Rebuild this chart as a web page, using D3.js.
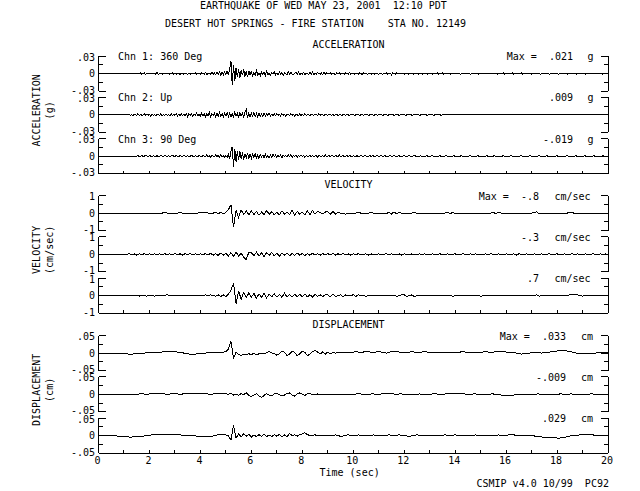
<!DOCTYPE html>
<html><head><meta charset="utf-8">
<script src="https://cdn.jsdelivr.net/npm/d3@7"></script>
<style>
body{margin:0;background:#fff}
svg text{font-family:"DejaVu Sans Mono",monospace;font-size:10px;fill:#000;white-space:pre}
</style></head><body>
<svg id="c" width="640" height="491" xmlns="http://www.w3.org/2000/svg"></svg>
<script>
// ---------- data ----------
const titleLine1 = "EARTHQUAKE OF WED MAY 23, 2001  12:10 PDT";
const titleLine2 = "DESERT HOT SPRINGS - FIRE STATION    STA NO. 12149";
const footer = "CSMIP v4.0 10/99  PC92";
const xTitle = "Time (sec)";
const timeDomain = [0, 20];
const xTicks = [0,1,2,3,4,5,6,7,8,9,10,11,12,13,14,15,16,17,18,19,20];
const xTickLabels = [0,2,4,6,8,10,12,14,16,18,20];

const groupTitles = ["ACCELERATION", "VELOCITY", "DISPLACEMENT"];
const groupUnits = ["(g)", "(cm/sec)", "(cm)"];
const channelNames = ["Chn 1: 360 Deg", "Chn 2: Up", "Chn 3: 90 Deg"];

const accLimit = 0.03, velLimit = 1, dispLimit = 0.05;
const accTickLabels = [".03", "0", "-.03"];
const velTickLabels = ["1", "0", "-1"];
const dispTickLabels = [".05", "0", "-.05"];
const accMaxLabels = [".021", ".009", "-.019"];
const velMaxLabels = ["-.8", "-.3", ".7"];
const dispMaxLabels = [".033", "-.009", ".029"];
const accMaxUnit = "g", velMaxUnit = "cm/sec", dispMaxUnit = "cm";

// sample interval (s) and value unit of the stored integers
const accDt = 0.05, accUnit = 0.001;   // milli-g
const velDt = 0.1, velUnit = 0.01;     // 0.01 cm/s
const dispDt = 0.1, dispUnit = 0.001;  // 0.001 cm

const acc1 = [
0,0,0,0,0,0,0,0,0,0,0,0,0,0,0,0,0,0,0,0,
0,0,0,0,0,0,0,0,0,0,1,-1,0,1,-1,0,1,-2,1,0,
0,1,-1,1,0,-1,2,-1,0,1,-1,0,1,-1,1,0,-1,0,1,-1,
1,-1,0,1,-2,1,0,-1,1,0,-1,1,-1,0,1,-1,2,-1,0,1,
-1,1,0,-1,2,-2,1,0,-1,2,-1,1,-2,2,-1,3,-3,2,-2,3,
-2,4,-3,9,21,-19,15,-13,10,-6,8,-7,6,-3,7,-5,4,-6,5,-2,
3,-4,2,-3,5,-2,1,-4,3,-1,2,-3,4,-2,1,-3,2,-1,3,-2,
1,-2,3,-1,2,-3,1,0,-2,3,-1,2,-1,-2,1,2,-1,3,-2,1,
-1,2,-2,1,0,-1,2,-1,3,-2,1,-1,2,0,-1,1,-2,2,-1,1,
0,-1,2,-1,1,0,-2,1,-1,2,-1,0,1,-1,1,0,-1,2,-1,0,
1,-1,0,1,-1,1,0,-2,1,0,1,-1,0,1,-1,0,1,-1,1,0,
-1,1,0,-1,1,0,1,-1,0,1,-2,1,0,-1,1,0,-1,1,0,1,
-1,0,1,-1,0,0,1,-1,0,1,0,-1,0,1,-1,0,0,1,-1,0,
0,1,-1,0,0,0,1,-1,0,0,1,-1,0,0,0,1,-1,0,0,0,
0,0,0,1,-1,0,0,0,0,0,1,0,-1,0,0,0,0,1,-1,0,
0,0,0,0,1,-1,0,0,0,0,0,1,0,-1,0,0,0,0,1,-1,
0,0,0,0,0,1,-1,0,0,0,0,0,1,-1,0,0,0,0,0,1,
-1,0,0,0,0,0,1,-1,0,0,0,0,0,1,-1,0,0,0,0,0,
1,-1,0,0,0,0,0,1,-1,0,0,0,0,0,1,-1,0,0,0,0,
0,1,-1,0,0,0,0,0,1,-1,0,0,0,0,0,1,-1,0,0,0,
0];
const acc2 = [
0,0,0,0,0,0,0,0,0,0,0,0,0,0,0,0,0,0,0,0,
0,0,0,0,1,-1,1,-2,1,0,-1,2,-1,1,-1,0,2,-1,1,-1,
1,-2,2,-1,1,-2,1,0,-1,2,-2,1,-1,2,-1,1,-2,2,-1,1,
-1,2,-2,1,-2,2,-1,1,-1,2,-3,2,-1,2,-2,1,-1,3,-2,1,
-2,3,-1,2,-3,2,-2,4,-3,2,-1,3,-4,3,-2,4,-3,2,-4,3,
-2,4,-3,3,-4,2,-3,5,-2,3,-5,4,-2,3,-4,5,9,-6,3,-4,
3,-2,4,-3,2,-4,3,-2,1,-3,3,-2,2,-1,3,-2,1,-2,2,-1,
2,-1,1,-2,2,-1,1,-2,1,0,-1,2,-1,1,-2,1,0,-1,2,-1,
1,-1,2,-1,0,1,-2,1,0,-1,1,0,-1,2,-1,1,0,-1,1,0,
-1,1,0,-1,1,-1,0,1,-1,0,1,-2,1,0,-1,1,0,-1,1,0,
1,-1,0,0,1,-1,0,1,-1,0,0,1,-1,0,1,0,-1,0,1,-1,
0,0,1,-1,0,0,1,-1,0,0,0,1,-1,0,0,1,-1,0,0,0,
1,-1,0,0,0,1,-1,0,0,0,0,1,-1,0,0,0,0,1,-1,0,
0,0,1,-1,0,0,0,0,1,-1,0,0,0,0,0,0,0,0,0,0,
0,0,0,0,0,0,0,0,0,0,0,0,0,0,0,0,0,0,0,0,
0,0,0,0,0,0,0,0,0,0,0,0,0,0,0,0,0,0,0,0,
0,0,0,0,0,0,0,0,0,0,0,0,0,0,0,0,0,0,0,0,
0,0,0,0,0,0,0,0,0,0,0,0,0,0,0,0,0,0,0,0,
0,0,0,0,0,0,0,0,0,0,0,0,0,0,0,0,0,0,0,0,
0,0,0,0,0,0,0,0,0,0,0,0,0,0,0,0,0,0,0,0,
0];
const acc3 = [
0,0,0,0,0,0,0,0,0,0,0,0,0,0,0,0,0,0,0,0,
0,0,0,0,0,0,0,0,0,0,0,1,-1,0,1,-1,0,1,0,-1,
1,0,-1,1,0,-1,1,-1,0,1,0,-1,1,0,-1,1,-1,0,1,0,
-1,1,0,-1,1,0,-1,1,0,-1,1,-1,0,1,0,-1,1,0,-1,1,
0,-1,1,0,-1,2,-1,1,-2,1,0,-1,2,-1,1,-2,2,-1,1,-2,
1,-2,3,-5,8,16,-19,12,-10,9,-7,8,-5,6,-6,4,-3,5,-4,3,
-4,3,-2,4,-3,2,-4,3,-1,2,-3,3,-2,1,-3,2,-2,3,-1,2,
-2,1,-1,2,-3,2,-1,1,-2,2,-1,3,-2,1,-1,2,-2,1,-1,2,
-1,1,-2,1,0,-1,2,-1,1,-1,0,1,-2,1,0,-1,1,-1,2,-1,
0,1,-1,1,0,-1,1,0,-1,2,-1,0,1,-1,0,1,-1,1,0,-1,
1,0,-1,1,-1,0,1,0,-1,1,0,-1,0,1,-1,1,0,-1,0,1,
-1,0,1,-1,0,1,-1,0,0,1,-1,0,1,0,-1,0,1,-1,0,0,
1,-1,0,0,1,-1,0,0,1,0,-1,0,0,1,-1,0,0,0,1,-1,
0,0,1,-1,0,0,0,0,1,-1,0,0,0,1,-1,0,0,0,0,1,
-1,0,0,0,0,1,-1,0,0,0,0,0,1,-1,0,0,0,0,1,-1,
0,0,0,0,0,1,-1,0,0,0,0,1,-1,0,0,0,0,0,1,-1,
0,0,0,0,1,-1,0,0,0,0,0,0,1,-1,0,0,0,0,0,1,
-1,0,0,0,0,0,1,-1,0,0,0,0,1,-1,0,0,0,0,0,0,
1,-1,0,0,0,0,0,0,1,-1,0,0,0,0,0,1,-1,0,0,0,
0,0,1,-1,0,0,0,0,0,1,-1,0,0,0,0,0,1,-1,0,0,
0];

const vel1 = [
0,0,0,0,0,0,0,0,0,0,
0,0,0,0,0,0,0,0,0,0,
0,0,0,0,0,0,5,0,0,0,
0,0,5,0,0,0,0,0,0,0,
5,6,4,0,0,0,4,-5,5,-4,
4,20,47,-80,15,-25,18,-8,12,-10,
12,-8,9,-12,6,-9,14,-6,8,-10,
5,-9,12,-5,6,-8,16,-14,10,-6,
5,-9,14,-10,15,-6,8,4,-5,6,
8,-8,10,-5,4,0,-4,-6,0,-4,
-5,0,4,0,0,0,0,4,0,0,
0,0,0,-4,6,-5,7,-4,5,0,
0,0,0,0,5,-4,0,0,0,0,
0,0,0,0,0,0,0,6,-5,4,
-3,0,0,0,0,0,0,0,0,0,
0,0,0,0,0,5,-4,5,0,0,
0,0,0,0,0,0,0,0,0,0,
0,5,7,-3,0,0,0,0,0,0,
0,0,0,0,0,5,4,-4,-5,0,
0,0,0,0,0,0,0,0,0,0,
0];
const vel2 = [
0,0,0,0,0,0,0,0,0,0,
0,0,4,-3,3,-4,3,-3,4,-3,
3,-4,4,-3,3,-4,4,-3,3,-3,
4,-3,3,-4,4,-3,5,-4,3,-4,
4,-3,5,-4,6,-5,4,-6,8,-5,
6,-9,10,-12,14,-10,8,-16,-30,12,
10,-8,12,-10,8,-12,10,-6,11,-9,
8,-10,6,-5,9,-8,5,-6,8,-4,
5,-6,4,-5,6,-4,3,-5,4,-3,
4,-3,5,-4,3,-3,4,-3,3,-4,
3,-3,4,-3,0,3,-4,3,-3,0,
3,-3,0,4,-3,3,0,-3,3,-4,
3,0,-3,3,-3,0,3,-4,3,0,
-3,3,0,-3,4,-3,0,3,-3,0,
3,-3,0,3,0,-3,3,-4,3,0,
-3,0,3,-3,4,0,-3,3,0,-3,
3,0,-3,3,-4,3,0,-3,3,0,
-3,3,0,-3,3,-3,0,4,-3,0,
3,-3,0,3,-3,0,3,-4,3,0,
-3,3,0,-3,3,0,-3,3,-4,3,
0];
const vel3 = [
0,0,0,0,0,0,0,0,0,0,
0,0,0,0,0,3,-3,3,0,-3,
3,0,-3,3,0,0,0,6,0,0,
0,0,0,0,0,0,0,0,0,0,
0,0,4,-3,5,0,-4,5,-5,4,
-6,8,30,70,-47,28,-22,18,-12,15,
-10,13,-15,10,-8,12,-13,8,-6,10,
-8,7,-10,13,-8,6,-9,7,-5,8,
-6,9,-7,5,-8,6,-4,5,-5,4,
5,-7,8,-5,0,4,-5,4,0,0,
5,-5,4,0,0,-4,0,0,0,0,
0,0,0,0,0,0,4,-4,0,4,
5,-4,0,4,-5,0,0,0,0,0,
0,0,0,0,0,0,0,0,4,-4,
0,0,0,0,0,0,0,0,0,4,
-4,0,0,0,0,0,0,0,0,0,
0,0,0,0,0,0,0,0,0,0,
0,0,4,-4,0,0,0,0,0,0,
0,0,0,0,0,5,8,8,5,0,
-3,0,0,0,0,0,0,0,0,0,
0];

const disp1 = [
0,0,0,0,0,-1,-1,-2,-2,-2,
-2,-2,-3,-3,-2,-2,-1,0,0,1,
2,2,3,3,2,3,4,4,5,4,
4,3,2,1,-1,-2,-3,-3,-3,-2,
-2,-1,0,1,2,2,2,1,2,3,
4,12,33,-14,2,-4,-6,-3,-5,-2,
-4,-1,-5,-2,0,-3,2,4,1,-2,
-6,-2,5,3,-7,-3,6,2,-8,-2,
6,2,-7,-3,4,7,3,-3,4,-3,
3,-2,2,0,2,3,2,1,2,3,
3,4,3,2,3,5,4,2,1,3,
4,3,1,0,2,4,5,4,3,2,
1,2,3,4,3,2,2,3,4,3,
2,1,2,3,3,2,1,2,3,3,
2,2,3,4,3,2,2,3,3,2,
2,3,4,3,2,3,4,5,5,4,
3,2,2,1,0,-1,-3,-2,-1,0,
1,2,2,1,0,1,2,3,4,5,
6,7,8,7,6,5,3,1,-1,-2,
-2,-1,-1,-1,0,0,1,2,2,1,
1];
const disp2 = [
0,0,0,0,0,0,-1,-1,-1,-1,
-1,-1,-1,0,0,0,1,1,1,0,
1,2,1,3,1,2,1,0,1,2,
1,1,0,1,1,2,1,1,2,1,
2,2,1,1,0,1,2,1,2,1,
2,0,3,-2,1,-3,2,-1,5,-3,
-6,-2,2,-4,-9,-3,2,-2,-4,1,
3,-1,-4,-2,2,4,-2,-5,1,4,
0,-3,2,3,-1,-2,1,0,-1,1,
0,-1,1,0,-1,0,1,0,-1,0,
0,1,2,1,0,-1,0,1,1,0,
0,1,1,2,3,2,1,0,1,1,
0,-1,0,1,0,0,1,0,0,-1,
0,1,2,1,0,0,1,2,2,1,
1,2,3,2,1,0,0,1,1,0,
0,-1,-1,0,1,1,0,-1,-2,-2,
-3,-4,-3,-2,-1,0,0,0,-1,-1,
0,0,1,1,0,0,-1,0,0,0,
0,1,1,0,0,1,1,0,0,0,
0,0,0,1,1,0,0,0,0,0,
0];
const disp3 = [
0,0,0,0,0,-1,-1,-1,-2,-2,
-3,-3,-4,-4,-3,-3,-2,-2,-1,0,
1,2,2,3,3,3,2,3,3,2,
2,2,2,1,1,0,0,-1,-1,-2,
-2,-3,-3,-3,-2,-1,1,2,3,2,
2,0,-13,29,-6,4,-3,5,-2,4,
-4,2,-3,3,-2,4,-3,2,-3,3,
-2,4,-4,2,-3,6,0,2,-2,3,
5,8,3,0,1,2,0,1,0,0,
0,-1,1,2,0,-2,-1,1,2,1,
0,1,2,1,0,-1,0,1,2,1,
0,-1,0,1,2,1,0,1,2,1,
0,-1,-3,0,1,2,1,0,1,0,
0,1,1,0,0,1,2,1,0,1,
2,1,0,0,1,1,0,1,2,1,
0,0,1,1,0,0,1,2,1,0,
1,2,3,2,1,0,0,1,1,0,
0,-1,-2,-3,-4,-4,-5,-5,-6,-6,
-7,-7,-6,-5,-3,-1,0,1,1,2,
3,4,4,3,2,1,1,0,0,0,
0];

// ---------- drawing ----------
const svg = d3.select("#c");
const x = d3.scaleLinear().domain(timeDomain).range([98.5, 608]);

const groups = [
  {title: groupTitles[0], unit: groupUnits[0], lim: accLimit, ticks: accTickLabels, max: accMaxLabels, maxUnit: accMaxUnit,
   traces: [acc1, acc2, acc3], dt: accDt, k: accUnit, valEnd: 573, unitStart: 587.5, names: true},
  {title: groupTitles[1], unit: groupUnits[1], lim: velLimit, ticks: velTickLabels, max: velMaxLabels, maxUnit: velMaxUnit,
   traces: [vel1, vel2, vel3], dt: velDt, k: velUnit, valEnd: 539, unitStart: 554.5, names: false},
  {title: groupTitles[2], unit: groupUnits[2], lim: dispLimit, ticks: dispTickLabels, max: dispMaxLabels, maxUnit: dispMaxUnit,
   traces: [disp1, disp2, disp3], dt: dispDt, k: dispUnit, valEnd: 566, unitStart: 581, names: false}
];
const groupTops = [56, 195.5, 335.5];
const panelStep = 41.25, panelH = 35.2;
const x0 = x(timeDomain[0]), x1 = x(timeDomain[1]);

function txt(xp, yp, s, anchor) {
  return svg.append("text").attr("x", xp).attr("y", yp)
    .attr("text-anchor", anchor || "start").attr("xml:space", "preserve").text(s);
}

txt(200, 9, titleLine1);
txt(165, 27, titleLine2);

groups.forEach((g, gi) => {
  const gTop = groupTops[gi];
  const gBottom = gTop + 2 * panelStep + panelH;
  txt(348.5, gTop - 8, g.title, "middle");
  const cy = (gTop + gBottom) / 2 - 4.5;
  svg.append("text").attr("transform", `translate(40,${cy}) rotate(-90)`)
    .attr("text-anchor", "middle").text(g.title);
  svg.append("text").attr("transform", `translate(52.8,${cy}) rotate(-90)`)
    .attr("text-anchor", "middle").text(g.unit);

  g.traces.forEach((vals, pi) => {
    const top = gTop + pi * panelStep;
    const y = d3.scaleLinear().domain([-g.lim, g.lim]).range([top + panelH, top]);
    const gp = svg.append("g").attr("shape-rendering", "crispEdges")
      .attr("stroke", "#000").attr("fill", "none").attr("stroke-width", 1);
    gp.append("line").attr("x1", x0).attr("x2", x0).attr("y1", y(g.lim)).attr("y2", y(-g.lim));
    gp.append("line").attr("x1", x1).attr("x2", x1).attr("y1", y(g.lim)).attr("y2", y(-g.lim));
    const yt = [g.lim, g.lim / 2, 0, -g.lim / 2, -g.lim];
    yt.forEach((v, i) => {
      const len = (i % 2 === 0) ? 7 : 4;
      gp.append("line").attr("x1", x0).attr("x2", x0 + len).attr("y1", y(v)).attr("y2", y(v));
      gp.append("line").attr("x1", x1).attr("x2", x1 - len).attr("y1", y(v)).attr("y2", y(v));
    });
    // left tick labels (top one nudged down, bottom one nudged up, as stacked in the reference)
    const labelDy = [4.6, 3.6, 2.5];
    [g.lim, 0, -g.lim].forEach((v, i) => {
      txt(95, y(v) + labelDy[i], g.ticks[i], "end");
    });
    if (pi === 2) {
      gp.append("line").attr("x1", x0).attr("x2", x1).attr("y1", y(-g.lim)).attr("y2", y(-g.lim));
      xTicks.forEach(t => {
        gp.append("line").attr("x1", x(t)).attr("x2", x(t)).attr("y1", y(-g.lim)).attr("y2", y(-g.lim) - 3);
      });
      if (gi === 2) {
        xTickLabels.forEach(t => txt(x(t) - 1, y(-g.lim) + 10.5, String(t), "middle"));
      }
    }
    const line = d3.line().x((d, i) => x(i * g.dt)).y(d => y(d * g.k));
    gp.append("path").datum(vals).attr("d", line);
    if (g.names) txt(118, top + 4, channelNames[pi]);
    txt(g.valEnd, top + 4, (pi === 0 ? "Max =  " : "") + g.max[pi], "end");
    txt(g.unitStart, top + 4, g.maxUnit);
  });
});

txt(319.5, 476, xTitle);
txt(476.5, 487, footer);
</script>
</body></html>
